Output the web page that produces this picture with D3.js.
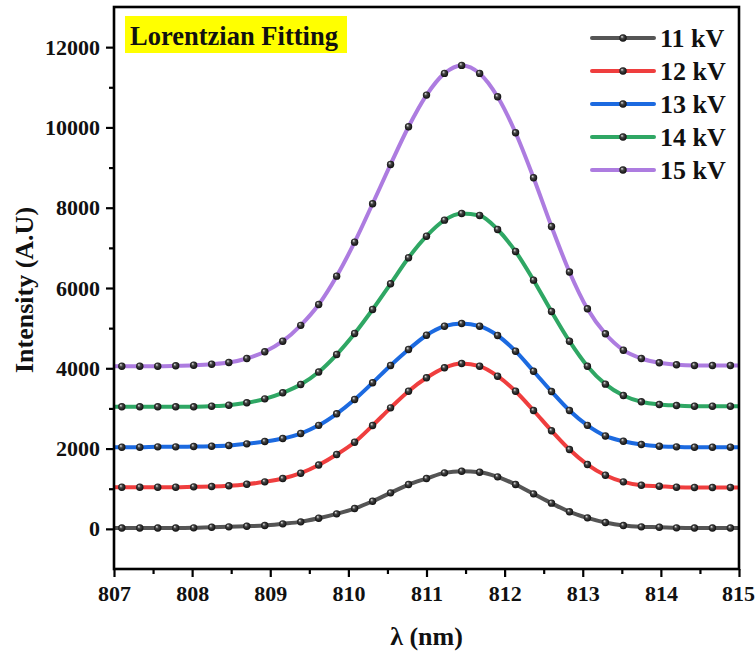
<!DOCTYPE html>
<html>
<head>
<meta charset="utf-8">
<script src="https://cdn.jsdelivr.net/npm/d3@7/dist/d3.min.js"></script>
<style>
  html, body { margin: 0; padding: 0; background: #fff; }
  svg { display: block; }
</style>
</head>
<body>
<svg id="chart" width="755" height="657"></svg>
<script>
// Sampled wavelengths (nm) of the fitted curves
const wavelength = [807.10, 807.33, 807.56, 807.79, 808.02, 808.25, 808.47, 808.70, 808.93, 809.16,
  809.39, 809.62, 809.85, 810.08, 810.31, 810.54, 810.77, 811.00, 811.23, 811.45,
  811.68, 811.91, 812.14, 812.37, 812.60, 812.83, 813.06, 813.29, 813.52, 813.75,
  813.98, 814.20, 814.43, 814.66, 814.89];

const seriesNames = ["11 kV", "12 kV", "13 kV", "14 kV", "15 kV"];
const seriesColors = ["#555555", "#ef3e3e", "#1c6ae0", "#2fa764", "#ad7ce0"];

const kV11 = [20, 20, 20, 20, 25, 40, 50, 65, 82, 125, 174, 265, 374, 506, 688, 897, 1104, 1253, 1395, 1435,
  1410, 1296, 1104, 872, 640, 425, 274, 158, 82, 50, 40, 25, 20, 20, 20];
const kV12 = [1037, 1037, 1037, 1037, 1047, 1054, 1072, 1111, 1171, 1253, 1386, 1590, 1851, 2158, 2574, 3015, 3429, 3763, 4012, 4119,
  4052, 3803, 3429, 2948, 2445, 1976, 1602, 1336, 1171, 1086, 1062, 1037, 1030, 1030, 1030];
const kV13 = [2033, 2033, 2043, 2043, 2051, 2058, 2076, 2118, 2175, 2250, 2375, 2578, 2866, 3222, 3638, 4069, 4468, 4824, 5049, 5116,
  5049, 4817, 4426, 3927, 3420, 2948, 2578, 2315, 2183, 2101, 2058, 2043, 2033, 2033, 2033];
const kV14 = [3040, 3040, 3040, 3040, 3040, 3055, 3080, 3140, 3239, 3389, 3596, 3907, 4343, 4867, 5465, 6105, 6753, 7291, 7690, 7857,
  7807, 7458, 6910, 6195, 5415, 4675, 4052, 3605, 3322, 3165, 3097, 3072, 3055, 3055, 3055];
const kV15 = [4052, 4052, 4052, 4062, 4077, 4102, 4144, 4244, 4411, 4675, 5070, 5589, 6295, 7142, 8099, 9078, 10017, 10805, 11346, 11545,
  11346, 10765, 9868, 8747, 7533, 6400, 5482, 4859, 4451, 4244, 4137, 4087, 4069, 4069, 4069];

const seriesValues = [kV11, kV12, kV13, kV14, kV15];

const xTicks = [807, 808, 809, 810, 811, 812, 813, 814, 815];
const xMinorTicks = [807.5, 808.5, 809.5, 810.5, 811.5, 812.5, 813.5, 814.5];
const yTicks = [0, 2000, 4000, 6000, 8000, 10000, 12000];
const yMinorTicks = [1000, 3000, 5000, 7000, 9000, 11000];

const xLabel = "λ (nm)";
const yLabel = "Intensity (A.U)";
const titleText = "Lorentzian Fitting";

const FONT = "'Liberation Serif', 'Times New Roman', 'DejaVu Serif', serif";
const W = 755;
const plot = { left: 114, right: 739, top: 7, bottom: 569 };

const svg = d3.select("#chart");

const x = d3.scaleLinear().domain([807, 815]).range([plot.left, plot.right]);
const y = d3.scaleLinear().domain([-1000, 13000]).range([plot.bottom, plot.top]);

// Glossy black sphere for the sample markers
const defs = svg.append("defs");
const grad = defs.append("radialGradient").attr("id", "ball")
  .attr("cx", "50%").attr("cy", "50%").attr("r", "60%")
  .attr("fx", "35%").attr("fy", "30%");
grad.append("stop").attr("offset", "0%").attr("stop-color", "#e8e8e8");
grad.append("stop").attr("offset", "35%").attr("stop-color", "#444");
grad.append("stop").attr("offset", "100%").attr("stop-color", "#000");

defs.append("clipPath").attr("id", "plotClip").append("rect")
  .attr("x", plot.left).attr("y", plot.top)
  .attr("width", plot.right - plot.left).attr("height", plot.bottom - plot.top);

// Curves
const line = d3.line().x(d => x(d[0])).y(d => y(d[1])).curve(d3.curveMonotoneX);
const dom = x.domain();

const gCurves = svg.append("g").attr("clip-path", "url(#plotClip)");
seriesValues.forEach((vals, i) => {
  const pts = wavelength.map((w, k) => [w, vals[k]]);
  const full = [[dom[0], vals[0]], ...pts, [dom[1], vals[vals.length - 1]]];
  gCurves.append("path").datum(full)
    .attr("d", line)
    .attr("fill", "none")
    .attr("stroke", seriesColors[i])
    .attr("stroke-width", 4)
    .attr("stroke-linejoin", "round");
});
seriesValues.forEach((vals, i) => {
  gCurves.append("g").selectAll("circle")
    .data(wavelength.map((w, k) => [w, vals[k]]))
    .join("circle")
    .attr("cx", d => x(d[0]))
    .attr("cy", d => y(d[1]))
    .attr("r", 3.7)
    .attr("fill", "url(#ball)");
});

// Axes
const xAxisG = svg.append("g").attr("transform", `translate(0,${plot.bottom})`)
  .call(d3.axisBottom(x).tickValues(xTicks).tickFormat(d3.format("d")).tickSize(8).tickPadding(8));
svg.append("g").attr("transform", `translate(0,${plot.bottom})`)
  .call(d3.axisBottom(x).tickValues(xMinorTicks).tickFormat("").tickSize(5));

svg.append("g").attr("transform", `translate(${plot.left},0)`)
  .call(d3.axisLeft(y).tickValues(yTicks).tickFormat(d3.format("d")).tickSize(8).tickPadding(6));
svg.append("g").attr("transform", `translate(${plot.left},0)`)
  .call(d3.axisLeft(y).tickValues(yMinorTicks).tickFormat("").tickSize(5));

svg.selectAll(".domain").remove();
svg.selectAll(".tick line").attr("stroke", "#000").attr("stroke-width", 2.2);
svg.selectAll(".tick text")
  .attr("font-family", FONT)
  .attr("font-weight", "bold")
  .attr("font-size", 22)
  .attr("fill", "#111");

// keep the last x label inside the page edge
xAxisG.selectAll(".tick text").each(function () {
  const t = d3.select(this);
  const box = this.getBBox();
  const tx = x(t.datum());
  const over = tx + box.x + box.width - (W - 0.5);
  if (over > 0) t.attr("dx", -over);
});

// Frame
svg.append("rect")
  .attr("x", plot.left).attr("y", plot.top)
  .attr("width", plot.right - plot.left).attr("height", plot.bottom - plot.top)
  .attr("fill", "none").attr("stroke", "#000").attr("stroke-width", 2.6);

// Axis titles
const txt = (sel) => sel.attr("font-family", FONT).attr("font-weight", "bold").attr("fill", "#111");
svg.append("text").call(txt)
  .attr("x", (plot.left + plot.right) / 2).attr("y", 645)
  .attr("text-anchor", "middle")
  .attr("font-size", 26)
  .text(xLabel);
svg.append("text").call(txt)
  .attr("transform", `translate(33,${(plot.top + plot.bottom) / 2 + 2}) rotate(-90)`)
  .attr("text-anchor", "middle")
  .attr("font-size", 26)
  .text(yLabel);

// Title box
const title = svg.append("g");
title.append("rect").attr("x", 125).attr("y", 16).attr("width", 222).attr("height", 37).attr("fill", "#ffff00");
title.append("text").call(txt).attr("x", 234).attr("y", 45).attr("text-anchor", "middle")
  .attr("font-size", 26.5).text(titleText);

// Legend
const legend = svg.append("g");
const legendY0 = 38, legendDY = 33;
seriesNames.forEach((name, i) => {
  const ly = legendY0 + i * legendDY;
  legend.append("line").attr("x1", 592).attr("x2", 654).attr("y1", ly).attr("y2", ly)
    .attr("stroke", seriesColors[i]).attr("stroke-width", 4).attr("stroke-linecap", "round");
  legend.append("circle").attr("cx", 623).attr("cy", ly).attr("r", 3.7).attr("fill", "url(#ball)");
  legend.append("text").call(txt).attr("x", 660).attr("y", ly).attr("dy", "0.35em")
    .attr("font-size", 26).text(name);
});
</script>
</body>
</html>
